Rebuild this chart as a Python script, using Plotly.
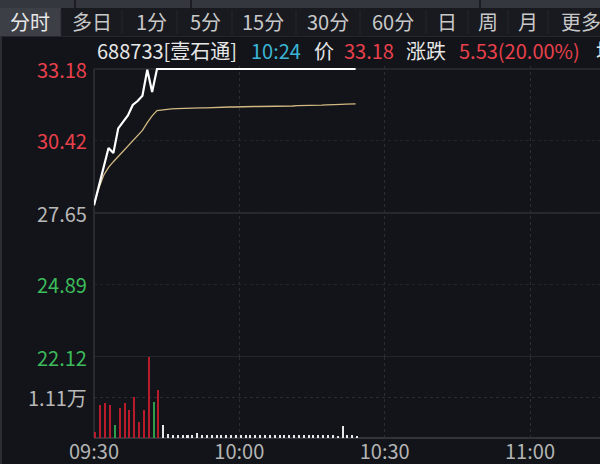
import plotly.graph_objects as go

# ---------------- data ----------------
tabs = ["分时", "多日", "1分", "5分", "15分", "30分", "60分", "日", "周", "月", "更多"]
tab_centers_px = [30, 92, 151, 205, 263, 328, 393, 447, 488, 528, 580]

price = [27.95, 28.65, 29.40, 30.15, 29.95, 30.90, 31.15, 31.40, 31.80, 31.95,
         32.15, 33.15, 32.30] + [33.18] * 42
avg = [27.95, 28.60, 29.10, 29.40, 29.62, 29.82, 30.02, 30.22, 30.40, 30.58,
       30.82, 31.12, 31.38, 31.58, 31.61, 31.63, 31.65, 31.66, 31.67, 31.67,
       31.68, 31.68, 31.69, 31.69, 31.70, 31.70, 31.71, 31.71, 31.72, 31.72,
       31.73, 31.73, 31.73, 31.74, 31.74, 31.74, 31.75, 31.75, 31.75, 31.76,
       31.76, 31.76, 31.77, 31.77, 31.78, 31.78, 31.79, 31.79, 31.80, 31.80,
       31.81, 31.82, 31.83, 31.83, 31.84]
volume = [1650, 9050, 9600, 9050, 3560, 8220, 9600, 7670, 11240, 4380,
          7670, 22200, 9860, 13150, 3560, 1000, 730, 730, 730, 950,
          730, 1370, 730, 900, 730, 730, 900, 730, 800, 730,
          730, 800, 730, 730, 800, 730, 730, 730, 800, 730,
          730, 800, 730, 730, 730, 800, 730, 730, 730, 730,
          600, 3200, 900, 700, 650]
prev_close = 27.65

price_ticks = [33.18, 30.42, 27.65, 24.89, 22.12]
price_tick_colors = ["#e8404c", "#e8404c", "#b8b8b8", "#3cbc5c", "#3cbc5c"]
vol_tick = 11100
vol_tick_label = "1.11万"
vol_max = 22200
time_ticks = [0, 30, 60, 90]
time_labels = ["09:30", "10:00", "10:30", "11:00"]

header_parts = [("688733[壹石通]", "#e6e6e6", 95), ("10:24", "#3ab4d6", 249),
                ("价", "#e6e6e6", 312), ("33.18", "#e8404c", 342),
                ("涨跌", "#e6e6e6", 404), ("5.53(20.00%)", "#e8404c", 457),
                ("均", "#e6e6e6", 594)]

# ---------------- layout helpers ----------------
W, H = 600, 464
L, R, T, B = 94, 0, 66, 26
PW, PH = W - L - R, H - T - B
def px2x(px):
    return (px - L) / PW
def py2y(py):
    return (H - B - py) / PH

vol_top_px = 357
split = py2y(vol_top_px)
price_px_per_unit = (vol_top_px - 69) / (price_ticks[0] - price_ticks[-1])
price_top = price_ticks[0] + (69 - T) / price_px_per_unit

FONT = "Noto Sans CJK SC"
BG = "#121419"

minute = list(range(len(price)))
bar_x = [m + 0.3 for m in minute]
bar_colors = []
for i, p in enumerate(price):
    ref = prev_close if i == 0 else price[i - 1]
    bar_colors.append("#b81c2a" if p > ref else ("#2e9e4a" if p < ref else "#e8e8e8"))

fig = go.Figure()
fig.add_trace(go.Scatter(x=minute, y=avg, mode="lines",
                         line=dict(color="#d2b982", width=1.3),
                         xaxis="x", yaxis="y", hoverinfo="skip"))
fig.add_trace(go.Scatter(x=minute, y=price, mode="lines",
                         line=dict(color="#ffffff", width=2.2),
                         xaxis="x", yaxis="y", hoverinfo="skip"))
fig.add_trace(go.Bar(x=bar_x, y=volume, marker=dict(color=bar_colors, line=dict(width=0)),
                     width=0.42, xaxis="x", yaxis="y2", hoverinfo="skip"))

shapes = []
# tab bar backgrounds
shapes.append(dict(type="rect", xref="paper", yref="paper", x0=px2x(0), x1=px2x(600),
                   y0=py2y(8), y1=py2y(0), fillcolor="#34373d", line=dict(width=0), layer="below"))
for sx in [75, 191, 480]:
    shapes.append(dict(type="line", xref="paper", yref="paper", x0=px2x(sx), x1=px2x(sx),
                       y0=py2y(8), y1=py2y(0), line=dict(color="#1c1e23", width=2)))
shapes.append(dict(type="rect", xref="paper", yref="paper", x0=px2x(0), x1=px2x(600),
                   y0=py2y(36), y1=py2y(8), fillcolor="#181a20", line=dict(width=0), layer="below"))
shapes.append(dict(type="rect", xref="paper", yref="paper", x0=px2x(0), x1=px2x(61),
                   y0=py2y(36), y1=py2y(8), fillcolor="#3c3f46", line=dict(width=0), layer="below"))
for sx in [61, 122, 177, 232, 296, 360, 426, 468, 508, 548]:
    shapes.append(dict(type="line", xref="paper", yref="paper", x0=px2x(sx), x1=px2x(sx),
                       y0=py2y(34), y1=py2y(10), line=dict(color="#23262c", width=1)))
shapes.append(dict(type="line", xref="paper", yref="paper", x0=px2x(0), x1=px2x(600),
                   y0=py2y(36.5), y1=py2y(36.5), line=dict(color="#23262c", width=1)))
# left border
shapes.append(dict(type="line", xref="paper", yref="paper", x0=px2x(1), x1=px2x(1),
                   y0=py2y(464), y1=py2y(36), line=dict(color="#2a2d33", width=2)))
# solid price lines
for v, c in [(price_ticks[0], "#363940"), (price_ticks[2], "#3c3f47"), (price_ticks[4], "#363940")]:
    shapes.append(dict(type="line", xref="paper", yref="y", x0=0, x1=1, y0=v, y1=v,
                       line=dict(color=c, width=1.2), layer="below"))
shapes.append(dict(type="line", xref="paper", yref="paper", x0=0, x1=1, y0=0, y1=0,
                   line=dict(color="#3c3f47", width=1.5), layer="below"))
shapes.append(dict(type="line", xref="paper", yref="paper", x0=0, x1=0, y0=0, y1=py2y(69),
                   line=dict(color="#363940", width=1.2), layer="below"))

annotations = []
for t, cx in zip(tabs, tab_centers_px):
    if t == "更多":
        annotations.append(dict(text=t, xref="paper", yref="paper", x=px2x(559), y=py2y(21),
                                xanchor="left", yanchor="middle", showarrow=False,
                                font=dict(family=FONT, size=20, color="#c8c8c8")))
    else:
        annotations.append(dict(text=t, xref="paper", yref="paper", x=px2x(cx), y=py2y(21),
                                xanchor="center", yanchor="middle", showarrow=False,
                                font=dict(family=FONT, size=20,
                                          color="#e8e8e8" if t == "分时" else "#c8c8c8")))
for txt, col, lx in header_parts:
    annotations.append(dict(text=txt, xref="paper", yref="paper", x=px2x(lx), y=py2y(50),
                            xanchor="left", yanchor="middle", showarrow=False,
                            font=dict(family=FONT, size=20, color=col)))
for v, c in zip(price_ticks, price_tick_colors):
    annotations.append(dict(text=f"{v:.2f}", xref="paper", yref="y", x=px2x(89), y=v,
                            xanchor="right", yanchor="middle", showarrow=False,
                            font=dict(family=FONT, size=20, color=c)))
annotations.append(dict(text=vol_tick_label, xref="paper", yref="y2", x=px2x(89), y=vol_tick,
                        xanchor="right", yanchor="middle", showarrow=False,
                        font=dict(family=FONT, size=20, color="#b8b8b8")))

fig.update_layout(
    width=W, height=H,
    margin=dict(l=L, r=R, t=T, b=B, pad=0),
    paper_bgcolor=BG, plot_bgcolor=BG,
    showlegend=False, bargap=0,
    xaxis=dict(range=[0, PW / ((530 - 94) / 90)], tickvals=time_ticks, ticktext=time_labels,
               showgrid=True, gridcolor="#2a2d34", griddash="dot", gridwidth=1,
               zeroline=False, showline=False, ticks="", anchor="y2",
               tickfont=dict(family=FONT, size=20, color="#b4b4b4"),
               ticklabelstandoff=0, fixedrange=True),
    yaxis=dict(range=[price_ticks[-1], price_top], domain=[split, 1],
               tickvals=price_ticks, showticklabels=False,
               showgrid=True, gridcolor="#22252b", griddash="dot",
               zeroline=False, showline=False, ticks="", fixedrange=True),
    yaxis2=dict(range=[0, vol_max], domain=[0, split], tickvals=[vol_tick],
                showticklabels=False, showgrid=True, gridcolor="#2a2d34", griddash="dot",
                zeroline=False, showline=False, ticks="", fixedrange=True),
    shapes=shapes, annotations=annotations,
)

fig.write_html("out.html", config={"displayModeBar": False},
               post_script="document.body.style.margin='0';document.body.style.overflow='hidden';")
